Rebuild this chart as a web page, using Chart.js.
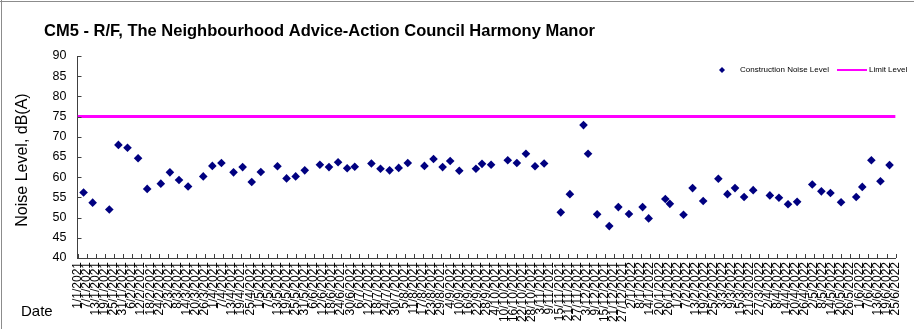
<!DOCTYPE html>
<html>
<head>
<meta charset="utf-8">
<script src="https://cdn.jsdelivr.net/npm/chart.js@4.4.0/dist/chart.umd.min.js"></script>
<style>
  html, body { margin: 0; padding: 0; background: #ffffff; }
  #wrap { width: 914px; height: 329px; position: relative; }
</style>
</head>
<body>
<div id="wrap"><canvas id="c" width="914" height="329"></canvas></div>
<script>
// ---- Chart text ----
const chartTitle = 'CM5 - R/F, The Neighbourhood Advice-Action Council Harmony Manor';
const yAxisTitle = 'Noise Level, dB(A)';
const xAxisTitle = 'Date';
const seriesNames = ['Construction Noise Level', 'Limit Level'];

// ---- Axis settings ----
const axisStartDate = '1/1/2021';
const axisEndDate = '25/6/2022';
const tickStepDays = 6;
const yMin = 40;
const yMax = 90;
const yStep = 5;

// ---- Measurements ----
const measureDates = [
  '5/1/2021', '11/1/2021', '22/1/2021', '28/1/2021', '3/2/2021', '10/2/2021', '16/2/2021', '25/2/2021',
  '3/3/2021', '9/3/2021', '15/3/2021', '25/3/2021', '31/3/2021', '6/4/2021', '14/4/2021', '20/4/2021',
  '26/4/2021', '2/5/2021', '13/5/2021', '19/5/2021', '25/5/2021', '31/5/2021', '10/6/2021', '16/6/2021',
  '22/6/2021', '28/6/2021', '3/7/2021', '14/7/2021', '20/7/2021', '26/7/2021', '1/8/2021', '7/8/2021',
  '18/8/2021', '24/8/2021', '30/8/2021', '4/9/2021', '10/9/2021', '21/9/2021', '25/9/2021', '1/10/2021',
  '12/10/2021', '18/10/2021', '24/10/2021', '30/10/2021', '5/11/2021', '16/11/2021', '22/11/2021', '1/12/2021',
  '4/12/2021', '10/12/2021', '18/12/2021', '24/12/2021', '31/12/2021', '9/1/2022', '13/1/2022', '24/1/2022',
  '27/1/2022', '5/2/2022', '11/2/2022', '18/2/2022', '28/2/2022', '6/3/2022', '11/3/2022', '17/3/2022',
  '23/3/2022', '3/4/2022', '9/4/2022', '15/4/2022', '21/4/2022', '1/5/2022', '7/5/2022', '13/5/2022',
  '20/5/2022', '30/5/2022', '3/6/2022', '9/6/2022', '15/6/2022', '21/6/2022'
];
const noiseLevels = [
  56.2, 53.7, 52.0, 68.0, 67.3, 64.7, 57.1, 58.4,
  61.2, 59.3, 57.7, 60.2, 62.8, 63.5, 61.2, 62.5,
  58.8, 61.3, 62.7, 59.7, 60.2, 61.7, 63.1, 62.5,
  63.7, 62.2, 62.6, 63.4, 62.1, 61.7, 62.3, 63.5,
  62.8, 64.5, 62.5, 64.0, 61.6, 62.1, 63.3, 63.1,
  64.2, 63.5, 65.8, 62.7, 63.4, 51.3, 55.8, 72.9,
  65.8, 50.8, 47.9, 52.6, 50.9, 52.6, 49.8, 54.6,
  53.4, 50.7, 57.3, 54.1, 59.6, 55.8, 57.3, 55.1,
  56.8, 55.5, 54.9, 53.3, 53.9, 58.2, 56.5, 56.1,
  53.8, 55.1, 57.6, 64.2, 59.0, 63.0
];
const limitLevel = 75;

// ---- Date helpers (days counted from the axis start) ----
const DAY_MS = 86400000;
function parseDmy(s) {
  const [d, m, y] = s.split('/').map(Number);
  return Date.UTC(y, m - 1, d);
}
const startMs = parseDmy(axisStartDate);
function dayOffset(s) { return Math.round((parseDmy(s) - startMs) / DAY_MS); }
function formatDay(v) {
  const dt = new Date(startMs + v * DAY_MS);
  return dt.getUTCDate() + '/' + (dt.getUTCMonth() + 1) + '/' + dt.getUTCFullYear();
}
const endOffset = dayOffset(axisEndDate);
const xTickValues = [];
for (let v = 0; v <= endOffset; v += tickStepDays) xTickValues.push(v);

const noisePoints = measureDates.map((d, i) => ({ x: dayOffset(d), y: noiseLevels[i] }));
const limitPoints = [{ x: 0, y: limitLevel }, { x: endOffset, y: limitLevel }];

const FONT = '"Liberation Sans", Arial, Helvetica, sans-serif';
const AXIS_COLOR = '#404040';
const NAVY = '#000080';
const MAGENTA = '#FF00FF';

// Frame, titles, legend and inward tick marks
const decorations = {
  id: 'decorations',
  afterDraw(chart) {
    const ctx = chart.ctx;
    const area = chart.chartArea;
    const xs = chart.scales.x;
    const ys = chart.scales.y;
    ctx.save();

    // outer frame (top and left edges)
    ctx.strokeStyle = '#8c8c8c';
    ctx.lineWidth = 1;
    ctx.beginPath();
    ctx.moveTo(0, 1.5); ctx.lineTo(914, 1.5);
    ctx.moveTo(1.5, 0); ctx.lineTo(1.5, 329);
    ctx.stroke();

    // inward tick marks
    ctx.strokeStyle = AXIS_COLOR;
    ctx.beginPath();
    xs.ticks.forEach(t => {
      const px = Math.round(xs.getPixelForValue(t.value)) + 0.5;
      ctx.moveTo(px, area.bottom);
      ctx.lineTo(px, area.bottom - 4);
    });
    ys.ticks.forEach(t => {
      const py = Math.round(ys.getPixelForValue(t.value)) + 0.5;
      ctx.moveTo(area.left, py);
      ctx.lineTo(area.left + 4, py);
    });
    ctx.stroke();

    // chart title
    ctx.fillStyle = '#000';
    ctx.font = 'bold 16.5px ' + FONT;
    ctx.textAlign = 'left';
    ctx.textBaseline = 'alphabetic';
    ctx.fillText(chartTitle, 44, 36);

    // y axis title
    ctx.font = '16px ' + FONT;
    ctx.save();
    ctx.translate(23, 160);
    ctx.rotate(-Math.PI / 2);
    ctx.textAlign = 'center';
    ctx.textBaseline = 'middle';
    ctx.fillText(yAxisTitle, 0, 0);
    ctx.restore();

    // x axis title
    ctx.font = '15px ' + FONT;
    ctx.textAlign = 'left';
    ctx.textBaseline = 'middle';
    ctx.fillText(xAxisTitle, 21, 312);

    // legend
    const ly = 70;
    ctx.fillStyle = NAVY;
    ctx.beginPath();
    ctx.moveTo(722, ly - 3); ctx.lineTo(725, ly); ctx.lineTo(722, ly + 3); ctx.lineTo(719, ly);
    ctx.closePath();
    ctx.fill();
    ctx.fillStyle = '#000';
    ctx.font = '8px ' + FONT;
    ctx.textBaseline = 'middle';
    ctx.fillText(seriesNames[0], 740, ly);
    ctx.strokeStyle = MAGENTA;
    ctx.lineWidth = 2;
    ctx.beginPath();
    ctx.moveTo(837, ly); ctx.lineTo(867, ly);
    ctx.stroke();
    ctx.fillText(seriesNames[1], 869, ly);

    ctx.restore();
  }
};

new Chart(document.getElementById('c'), {
  type: 'scatter',
  data: {
    datasets: [
      {
        label: seriesNames[1],
        type: 'line',
        data: limitPoints,
        borderColor: MAGENTA,
        borderWidth: 3,
        pointRadius: 0,
        fill: false,
        order: 2
      },
      {
        label: seriesNames[0],
        data: noisePoints,
        pointStyle: 'rectRot',
        pointRadius: 4.3,
        pointBorderWidth: 0,
        backgroundColor: NAVY,
        borderColor: NAVY,
        showLine: false,
        order: 1
      }
    ]
  },
  options: {
    responsive: false,
    devicePixelRatio: 1,
    animation: false,
    events: [],
    layout: { padding: { top: 56, right: 13, bottom: 0, left: 0 } },
    plugins: {
      legend: { display: false },
      title: { display: false },
      tooltip: { enabled: false }
    },
    scales: {
      x: {
        type: 'linear',
        min: 0,
        max: endOffset,
        afterFit(s) { s.height = 71; },
        afterBuildTicks(s) { s.ticks = xTickValues.map(v => ({ value: v })); },
        grid: { drawOnChartArea: false, drawTicks: false },
        border: { display: true, color: AXIS_COLOR, width: 1 },
        ticks: {
          autoSkip: false,
          minRotation: 90,
          maxRotation: 90,
          padding: 4,
          color: '#000',
          font: { family: FONT, size: 12 },
          callback: v => formatDay(v)
        }
      },
      y: {
        min: yMin,
        max: yMax,
        afterFit(s) { s.width = 77.5; },
        grid: { drawOnChartArea: false, drawTicks: false },
        border: { display: true, color: AXIS_COLOR, width: 1 },
        ticks: {
          stepSize: yStep,
          padding: 11,
          color: '#000',
          font: { family: FONT, size: 12.5 }
        }
      }
    }
  },
  plugins: [decorations]
});
</script>
</body>
</html>
